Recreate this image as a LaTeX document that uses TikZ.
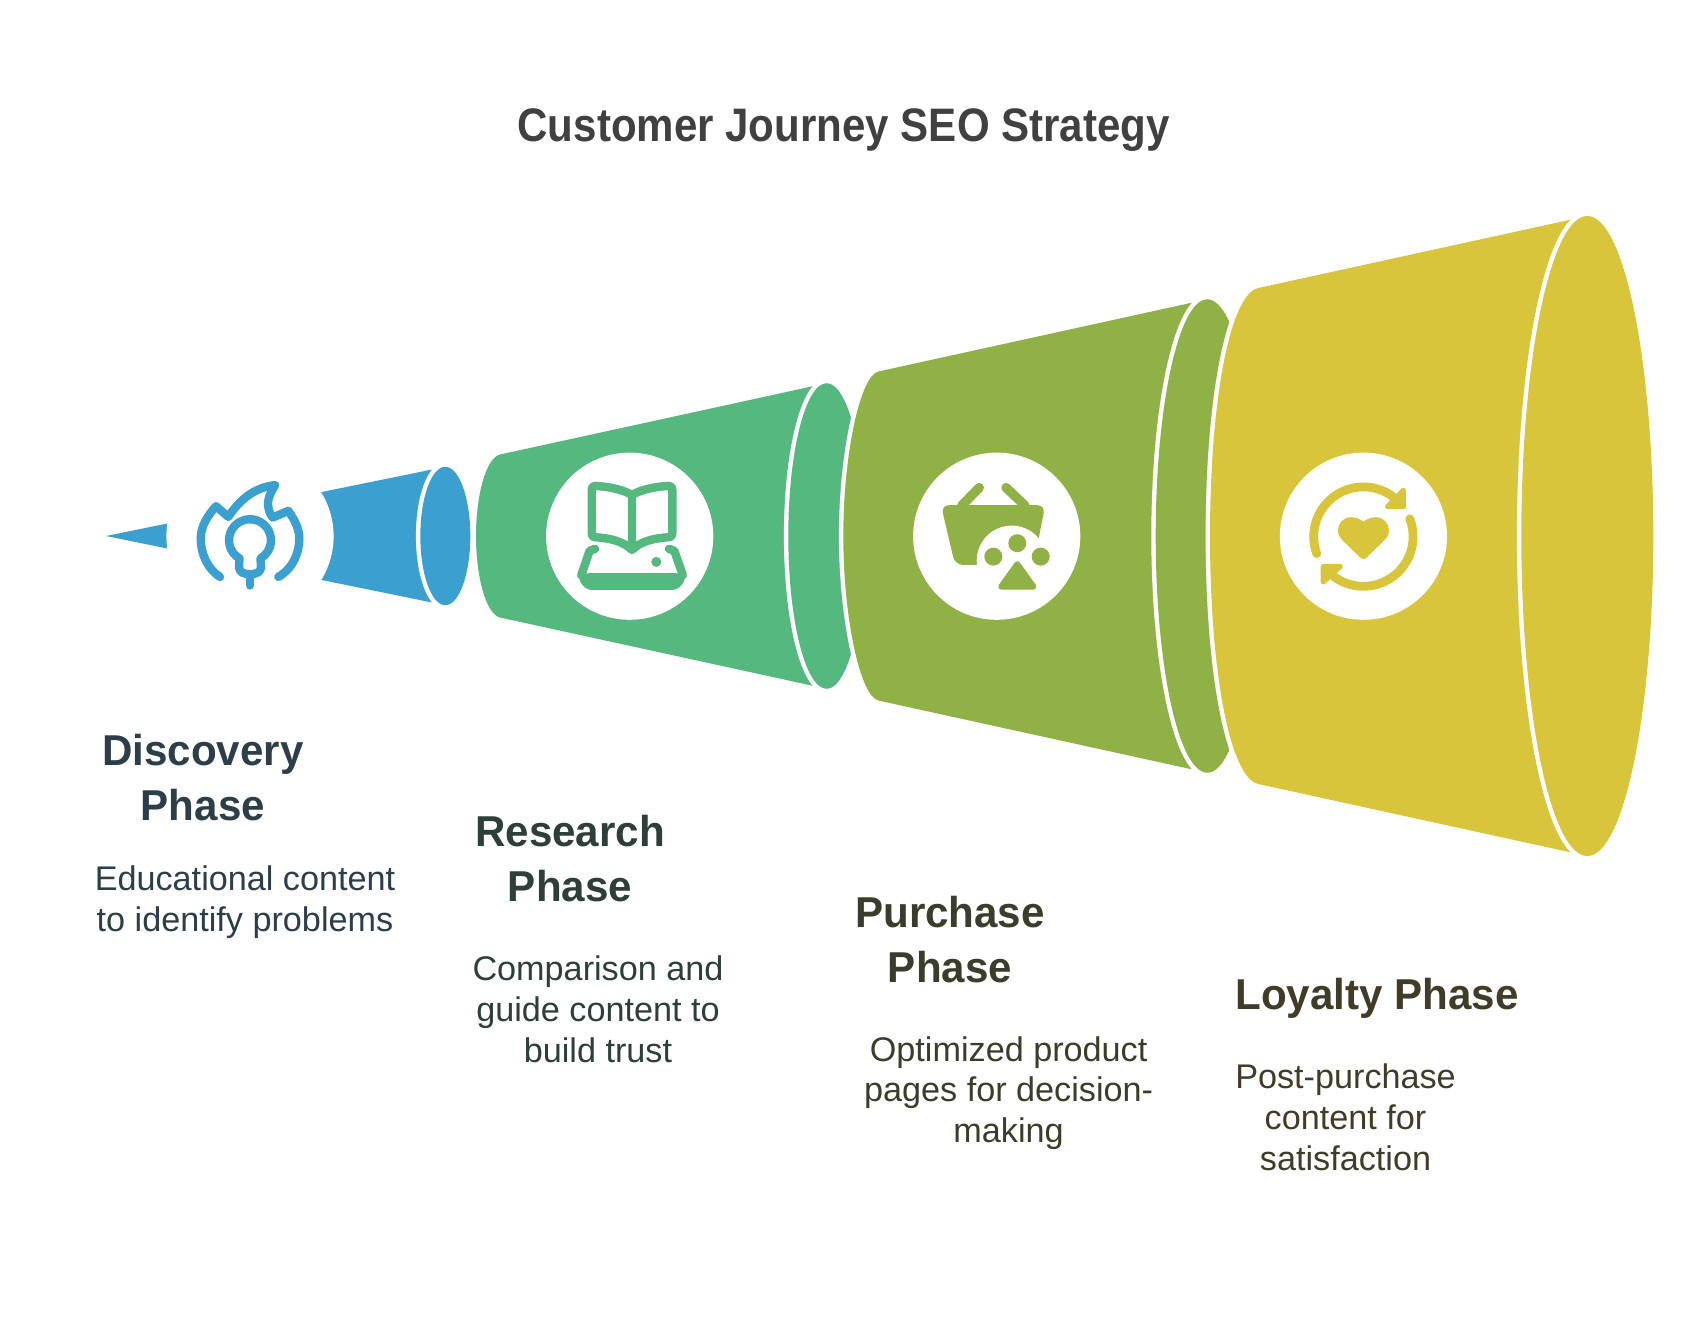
\documentclass[tikz,border=0pt]{standalone}
\usepackage{fontspec}
\setmainfont{Liberation Sans}
\newfontfamily\titlefont[FakeStretch=0.895]{Liberation Sans}
\newfontfamily\headfont[FakeStretch=0.975]{Liberation Sans}
\usetikzlibrary{positioning}
\definecolor{discoveryblue}{HTML}{3B9FD0}
\definecolor{researchgreen}{HTML}{54B87F}
\definecolor{purchaseolive}{HTML}{90B146}
\definecolor{loyaltyyellow}{HTML}{D9C53B}
\definecolor{titlegray}{HTML}{404040}
\definecolor{discoveryink}{HTML}{2C3E48}
\definecolor{researchink}{HTML}{2D3F38}
\definecolor{purchaseink}{HTML}{3A3D2B}
\definecolor{loyaltyink}{HTML}{3F3C28}
\tikzset{
	conebody/.style={fill=#1, preaction={draw=white, line width=4.4pt}},
	coneend/.style={fill=#1, preaction={draw=white, line width=4.4pt}},
	badge/.style={circle, fill=white, minimum size=83.6pt, inner sep=0pt},
	iconline/.style={draw=#1, line width=4.2pt, line cap=round, line join=round},
	icontip/.style={fill=#1, draw=#1, line width=2.5pt, line join=round},
	titletext/.style={font=\fontsize{23.5}{28}\titlefont\bfseries, text=titlegray},
	headtext/.style={font=\fontsize{21.6}{27.5}\headfont\bfseries, align=center, inner sep=0pt},
	desctext/.style={font=\fontsize{17.1}{20.4}\selectfont, align=center, inner sep=0pt}
}
\begin{document}
\begin{tikzpicture}[x=0.5pt, y=-0.5pt]
	\useasboundingbox (0,0) rectangle (1696,1328);
	% cones, all symmetric about the line y=536
	\begin{scope}[shift={(0,536)}]
		\path[conebody=discoveryblue] (106,0) -- (445.3,-69.2) -- (445.3,69.2) -- cycle;
		\path[coneend=discoveryblue] (445.3,0) ellipse [x radius=25, y radius=69.2];
		\foreach \fillcol/\xl/\yl/\xc/\yc/\xm/\ym/\xe/\rx/\ry in {
			researchgreen/500/81.5/486/78/476/41/826.7/38.4/152.8,
			purchaseolive/878.3/164.5/860/160/843.3/81/1207.3/51.6/236.7,
			loyaltyyellow/1258.3/248/1230/242/1210/136/1587.3/66/320}
		{
			\path[conebody=\fillcol] (\xl,-\yl) .. controls (\xc,-\yc) and (\xm,-\ym) .. (\xm,0)
				.. controls (\xm,\ym) and (\xc,\yc) .. (\xl,\yl) -- (\xe,\ry) -- (\xe,-\ry) -- cycle;
			\path[coneend=\fillcol] (\xe,0) ellipse [x radius=\rx, y radius=\ry];
		}
	\end{scope}
	\node[badge] (discoverybadge) at (250,536.2) {};
	\node[badge] (researchbadge) at (629.7,536.2) {};
	\node[badge] (purchasebadge) at (996.7,536.2) {};
	\node[badge] (loyaltybadge) at (1363.4,536.2) {};
	% bulb in a flame
	\begin{scope}[shift={(discoverybadge.center)}]
		\draw[iconline=discoveryblue] (-30,40.7) .. controls (-42,33) and (-49.3,18) .. (-49.3,2.3)
			.. controls (-49.3,-10) and (-42,-21) .. (-34,-30) -- (-21.7,-19.3)
			.. controls (-10,-37) and (5,-49) .. (25,-51) .. controls (20,-42) and (17,-37) .. (18.3,-29.3)
			.. controls (18.8,-26) and (20,-22) .. (22.7,-18.7) -- (38.3,-25.3)
			.. controls (45,-16) and (49.3,-7) .. (49.3,2.3) .. controls (49.3,18) and (42,33) .. (28.3,40.7);
		\draw[iconline=discoveryblue] (-10.5,22.2) arc [start angle=120, end angle=420, radius=21]
			-- (11,31) .. controls (11,36) and (6,38) .. (0,38) .. controls (-6,38) and (-11,36) .. (-11,31) -- cycle;
		\draw[iconline=discoveryblue] (0,38) -- (0,49.3);
	\end{scope}
	% open book over a tablet
	\begin{scope}[shift={(researchbadge.center)}]
		\draw[iconline=researchgreen] (2.3,-41.3) .. controls (-6.4,-46.3) and (-19.7,-49.6) .. (-34.7,-50.3)
			.. controls (-37,-50.3) and (-38,-49) .. (-38,-46.3) -- (-38,-3) .. controls (-38,0) and (-37,1) .. (-34.7,1)
			.. controls (-19.7,2) and (-6.4,5) .. (2.3,13.7) .. controls (11,5) and (24.3,2) .. (39.3,1)
			.. controls (41.6,1) and (42.6,0) .. (42.6,-3) -- (42.6,-46.3) .. controls (42.6,-49) and (41.6,-50.3) .. (39.3,-50.3)
			.. controls (24.3,-49.6) and (11,-46.3) .. (2.3,-41.3) -- (2.3,13.7);
		\fill[researchgreen] (26.6,25.7) circle [radius=5];
		\fill[researchgreen, rounded corners=3pt] (-47,37) -- (51.5,37) -- (57,41) -- (48.6,53.7)
			-- (-44,53.7) -- (-52.4,41) -- cycle;
		\draw[iconline=researchgreen] (-34.7,12.7) -- (-40,14.5) -- (-48.5,39);
		\draw[iconline=researchgreen] (39.3,12.7) -- (44.6,14.5) -- (53.1,39);
	\end{scope}
	% basket with a paw
	\begin{scope}[shift={(purchasebadge.center)}]
		\draw[iconline=purchaseolive, line width=4.7pt] (-35,-30.6) -- (-17.4,-48.6);
		\draw[iconline=purchaseolive, line width=4.7pt] (28.3,-30.6) -- (9.3,-48.6);
		\fill[purchaseolive, rounded corners=4pt] (-55.7,-31) -- (48.6,-31) -- (36.6,28.7) -- (-41.7,28.7) -- cycle;
		\fill[white] (15,24.4) circle [radius=35];
		\foreach \tx/\ty in {20.6/7, -3.4/20.4, 44/20.4}
			\fill[purchaseolive] (\tx,\ty) circle [radius=9];
		\filldraw[icontip=purchaseolive, line width=3pt] (20.6,28) -- (4.5,50.5) -- (36.7,50.5) -- cycle;
	\end{scope}
	% heart in a cycle
	\begin{scope}[shift={(loyaltybadge.center)}]
		\draw[iconline=loyaltyyellow, line width=4.4pt] ({49.7*cos(160)},{0.4+49.7*sin(160)}) arc [start angle=160, end angle=306, radius=49.7];
		\draw[iconline=loyaltyyellow, line width=4.4pt] ({49.7*cos(-21)},{0.4+49.7*sin(-21)}) arc [start angle=-21, end angle=127, radius=49.7];
		\filldraw[icontip=loyaltyyellow] (40,-46) -- (40,-29.5) -- (24,-29.5) -- cycle;
		\filldraw[icontip=loyaltyyellow] (-40.2,30.2) -- (-23,30.2) -- (-40.2,46) -- cycle;
		\fill[loyaltyyellow] (0,-14.6) .. controls (4,-17.5) and (8,-19) .. (12.5,-19)
			.. controls (20,-19) and (25.5,-13) .. (25.5,-6) .. controls (25.5,-1) and (23,2) .. (20,5)
			-- (3,21.5) .. controls (1,23.5) and (-1,23.5) .. (-3,21.5) -- (-20,5)
			.. controls (-23,2) and (-25.5,-1) .. (-25.5,-6) .. controls (-25.5,-13) and (-20,-19) .. (-12.5,-19)
			.. controls (-8,-19) and (-4,-17.5) .. (0,-14.6) -- cycle;
	\end{scope}
	% texts
	\node[titletext] (title) at (843.7,130) {Customer Journey SEO Strategy};
	\node[headtext, text=discoveryink] (discoveryhead) at (202.8,778) {Discovery\\Phase};
	\node[desctext, text=discoveryink] (discoverydesc) at (245,902.5) {Educational content\\to identify problems};
	\node[headtext, text=researchink] (researchhead) at (570,859) {Research\\Phase};
	\node[desctext, text=researchink] (researchdesc) at (598,1009) {Comparison and\\guide content to\\build trust};
	\node[headtext, text=purchaseink] (purchasehead) at (950,940) {Purchase\\Phase};
	\node[desctext, text=purchaseink] (purchasedesc) at (1008.6,1093) {Optimized product\\pages for decision-\\making};
	\node[headtext, text=loyaltyink] (loyaltyhead) at (1377,998.5) {Loyalty Phase};
	\node[desctext, text=loyaltyink] (loyaltydesc) at (1345.5,1117) {Post-purchase\\content for\\satisfaction};
\end{tikzpicture}
\end{document}
